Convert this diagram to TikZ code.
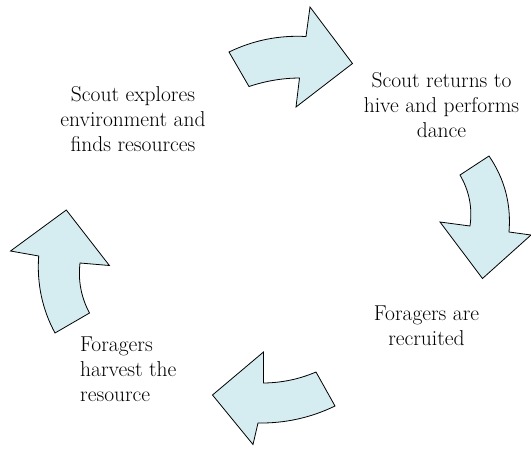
\documentclass[tikz,border=0pt]{standalone}
\usepackage{fontspec}
\definecolor{arrowfill}{RGB}{213,237,241}
\tikzset{
  cyclearrow/.style={draw=black, line width=0.8pt, fill=arrowfill, line join=miter},
  steptext/.style={inner sep=0pt, font=\rmfamily\fontsize{21.5}{25}\selectfont, align=center}
}
\begin{document}
\begin{tikzpicture}[x=1pt, y=-1pt]
  \useasboundingbox (0,0) rectangle (531,448);

  % top curved arrow (pointing right)
  \draw[cyclearrow] (229,52) .. controls (253.4,40.2) and (279,35.1) .. (306,36.5)
    -- (310,7) -- (352.5,63.5) -- (296,107) -- (299.5,78)
    .. controls (282.3,78.1) and (265.4,81) .. (249,86.5) -- cycle;

  % right curved arrow (pointing down)
  \draw[cyclearrow] (460,175) -- (489,156)
    .. controls (504.7,178.9) and (511.3,204.3) .. (509,232)
    -- (531,235) -- (482.5,278.5) -- (440,222) -- (470,226)
    .. controls (472.6,207.8) and (469.2,190.8) .. (460,175) -- cycle;

  % bottom curved arrow (pointing left)
  \draw[cyclearrow] (316,372) -- (335,406)
    .. controls (310.7,417.8) and (285,423.4) .. (258,423)
    -- (253,444.5) -- (212.5,395) -- (263.5,352) -- (263.5,383)
    .. controls (281.7,382.8) and (299.2,379.2) .. (316,372) -- cycle;

  % left curved arrow (pointing up)
  \draw[cyclearrow] (55,333) -- (89.5,313)
    .. controls (81.1,297.3) and (78,280.7) .. (80,263)
    -- (109.4,265.5) -- (66.3,210) -- (10.5,251) -- (38.7,256)
    .. controls (36.7,283.3) and (42.2,309.3) .. (55,333) -- cycle;

  % step labels
  \node[steptext] (explore) at (133,119) {Scout explores\\environment and\\finds resources};
  \node[steptext] (dance) at (441.5,105) {Scout returns to\\hive and performs\\dance};
  \node[steptext] (recruit) at (426.5,326) {Foragers are\\recruited};
  \node[steptext, align=left, anchor=west] (harvest) at (80,369) {Foragers\\harvest the\\resource};
\end{tikzpicture}
\end{document}
